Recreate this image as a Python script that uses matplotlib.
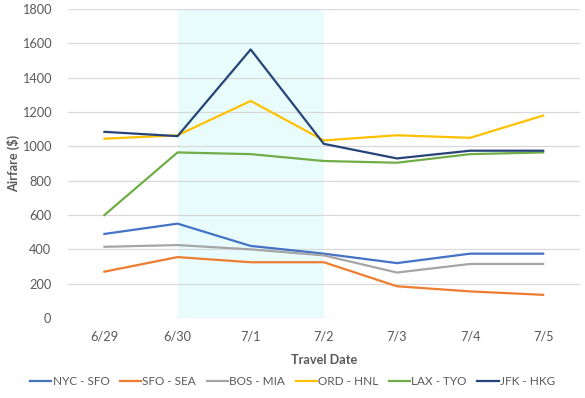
import matplotlib
matplotlib.use('Agg')
from matplotlib import pyplot as plt

dates = ['6/29', '6/30', '7/1', '7/2', '7/3', '7/4', '7/5']
nyc_sfo = [490, 550, 420, 375, 320, 375, 375]
sfo_sea = [270, 355, 325, 325, 185, 155, 135]
bos_mia = [415, 425, 400, 365, 265, 315, 315]
ord_hnl = [1045, 1065, 1265, 1035, 1065, 1050, 1180]
lax_tyo = [600, 965, 955, 915, 905, 955, 965]
jfk_hkg = [1085, 1060, 1565, 1015, 930, 975, 975]

routes = ['NYC - SFO', 'SFO - SEA', 'BOS - MIA', 'ORD - HNL', 'LAX - TYO', 'JFK - HKG']
series = [nyc_sfo, sfo_sea, bos_mia, ord_hnl, lax_tyo, jfk_hkg]
colors = ['#4472C4', '#ED7D31', '#A5A5A5', '#FFC000', '#70AD47', '#264478']

plt.rcParams['font.family'] = ['Lato', 'DejaVu Sans']
txt = '#595959'

fig = plt.figure(figsize=(5.85, 3.98), dpi=100)
ax = fig.add_axes([0.116, 0.201, 0.875, 0.776])

x = range(len(dates))
# holiday window highlight
ax.axvspan(1, 3, color='#E8FCFC', zorder=0, lw=0)

for name, vals, c in zip(routes, series, colors):
    ax.plot(x, vals, color=c, lw=1.6, label=name, zorder=3)

ax.set_xlim(-0.5, len(dates) - 0.5)
ax.set_ylim(0, 1800)
ax.set_yticks(range(0, 1801, 200))
ax.set_xticks(list(x))
ax.set_xticklabels(dates)
ax.yaxis.grid(True, color='#D9D9D9', lw=0.9, zorder=1)
ax.set_axisbelow(True)
for s in ax.spines.values():
    s.set_visible(False)
ax.tick_params(length=0, labelsize=9.2, colors=txt)
ax.tick_params(axis='x', pad=9)
ax.tick_params(axis='y', pad=12)

ax.set_ylabel('Airfare ($)', fontsize=9.2, fontweight='bold', color=txt)
ax.set_xlabel('Travel Date', fontsize=9.2, fontweight='bold', color=txt)
ax.yaxis.set_label_coords(-0.094, 0.5)
ax.xaxis.set_label_coords(0.5, -0.118)

fig.legend(loc='lower center', bbox_to_anchor=(0.5, 0.0), ncol=6, frameon=False,
           fontsize=8.5, labelcolor=txt, handlelength=1.8, handletextpad=0.1,
           columnspacing=0.9)

fig.savefig('out.png', dpi=100)
